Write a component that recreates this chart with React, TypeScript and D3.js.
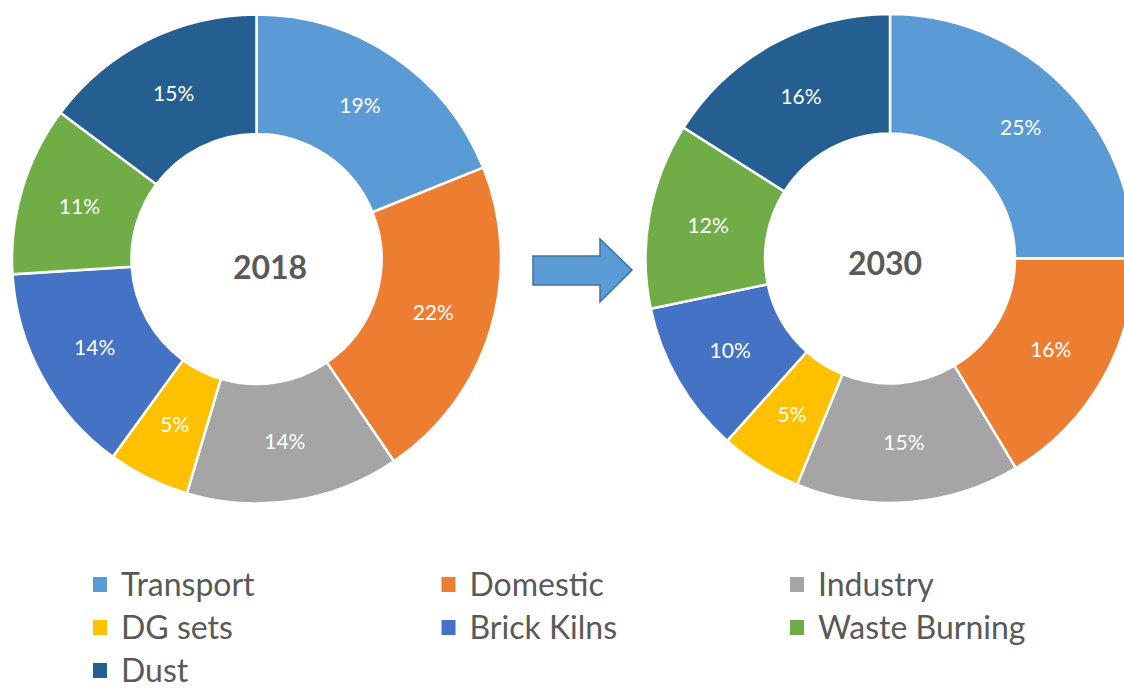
import React from "react";
import * as d3 from "d3";

// sources of pollution, same order in both rings
const categories = ["Transport", "Domestic", "Industry", "DG sets", "Brick Kilns", "Waste Burning", "Dust"];
const colors = ["#5B9BD5", "#ED7D31", "#A5A5A5", "#FFC000", "#4472C4", "#70AD47", "#255E91"];

// shares (labels show the rounded value)
const share2018 = [18.9, 21.6, 14.1, 5.4, 14.0, 11.2, 14.8];
const share2030 = [25.0, 16.4, 14.8, 5.4, 10.1, 12.3, 16.0];

const years = ["2018", "2030"];

const W = 1124;
const H = 690;
const font = "Lato, 'Open Sans', sans-serif";

type Slice = { name: string; value: number; color: string };

function Donut({ values, cx, cy, year, yearX, yearY }: { values: number[]; cx: number; cy: number; year: string; yearX: number; yearY: number }) {
  const rows: Slice[] = categories.map((c, i) => ({ name: c, value: values[i], color: colors[i] }));
  const pie = d3.pie<Slice>().sort(null).value(d => d.value);
  const arcs = pie(rows);
  const arc = d3.arc<d3.PieArcDatum<Slice>>().innerRadius(125).outerRadius(244.5);

  return (
    <g transform={`translate(${cx},${cy})`}>
      {arcs.map(a => (
        <path key={a.data.name} d={arc(a) || ""} fill={a.data.color} stroke="#fff" strokeWidth={2.5} strokeLinejoin="miter" />
      ))}
      {arcs.map(a => {
        const [x, y] = arc.centroid(a);
        return (
          <text key={"l" + a.data.name} x={x} y={y} dy="0.35em" textAnchor="middle" fill="#fff"
            fontFamily={font} fontSize={21}>
            {Math.round(a.data.value)}%
          </text>
        );
      })}
      <text x={yearX - cx} y={yearY - cy} dy="0.36em" textAnchor="middle" fill="#595959"
        fontFamily={font} fontWeight="bold" fontSize={32}>
        {year}
      </text>
    </g>
  );
}

export default function App() {
  // legend laid out in three columns
  const colX = d3.scalePoint<number>().domain([0, 1, 2]).range([93, 790]);
  const rowY = (i: number) => 585 + Math.floor(i / 3) * 43;

  return (
    <svg width={W} height={H} style={{ position: "absolute", left: 0, top: 0, background: "#fff", overflow: "hidden" }}>
      <Donut values={share2018} cx={256.5} cy={259} year={years[0]} yearX={270} yearY={267} />
      <Donut values={share2030} cx={890} cy={258.5} year={years[1]} yearX={885} yearY={263} />

      {/* arrow between the rings */}
      <path d="M533,256 L600,256 L600,239 L632,270 L600,302 L600,285 L533,285 Z"
        fill="#5B9BD5" stroke="#41719C" strokeWidth={1.5} />

      {categories.map((c, i) => {
        const x = colX(i % 3) || 0;
        const y = rowY(i);
        return (
          <g key={c}>
            <rect x={x} y={y - 8} width={14} height={15} fill={colors[i]} />
            <text x={x + 28} y={y} dy="0.35em" fill="#595959" fontFamily={font} fontSize={32}>{c}</text>
          </g>
        );
      })}
    </svg>
  );
}
